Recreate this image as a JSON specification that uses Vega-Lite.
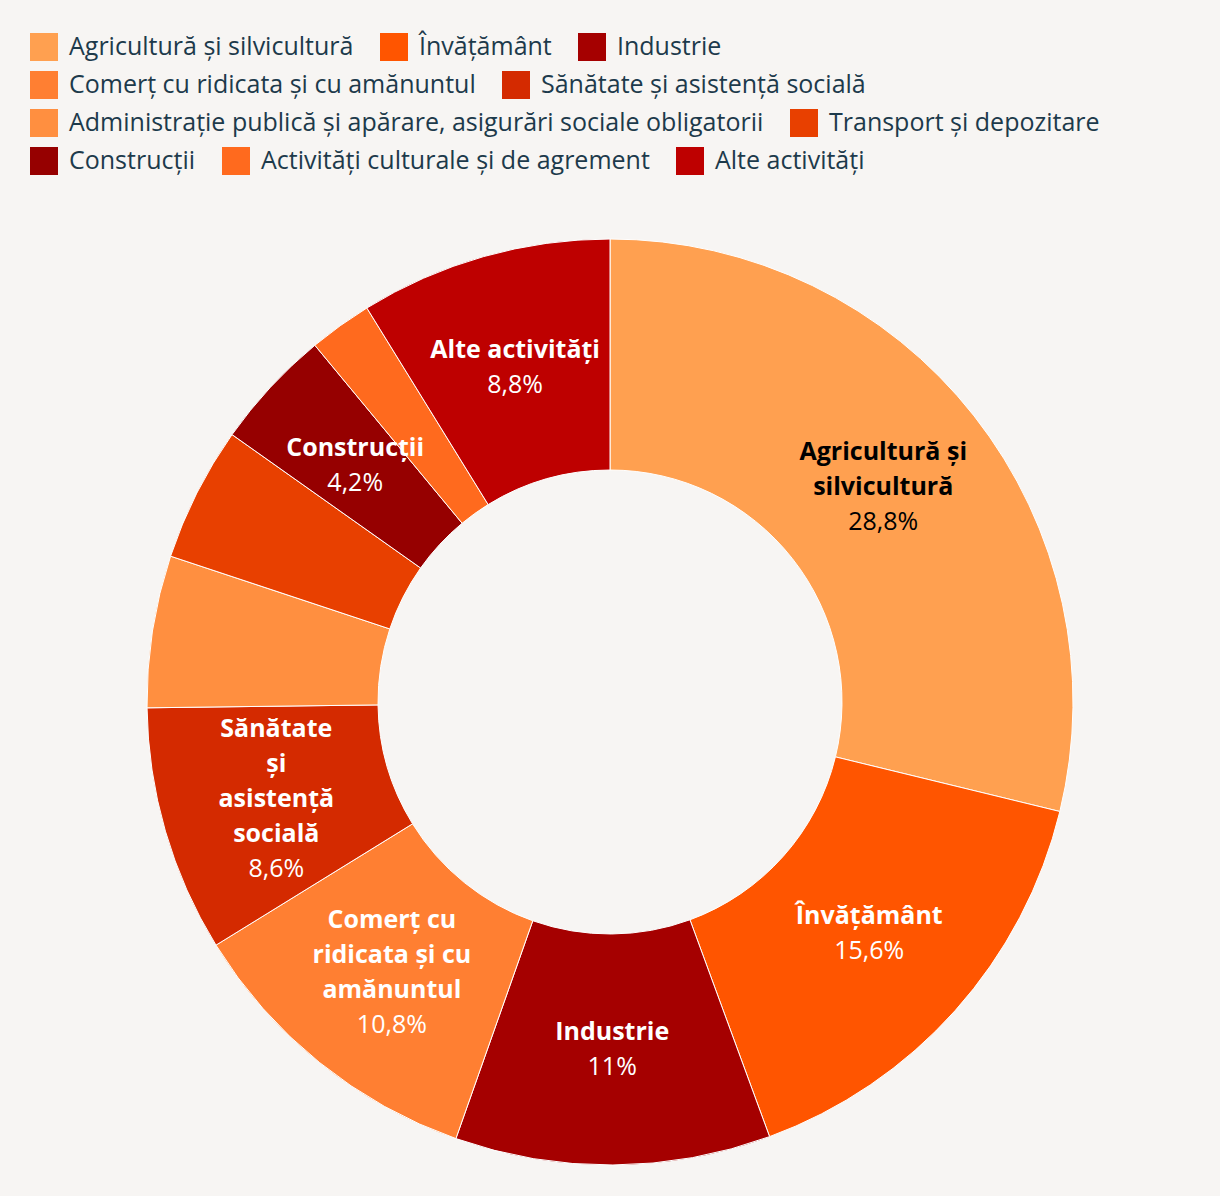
{
  "$schema": "https://vega.github.io/schema/vega-lite/v6.json",
  "autosize": {"type": "none"},
  "width": 1220,
  "height": 926,
  "padding": {"top": 239, "bottom": 31, "left": 0, "right": 0},
  "background": "#F7F5F3",
  "config": {
    "view": {"stroke": null},
    "font": "Open Sans",
    "legend": {
      "orient": "none",
      "direction": "horizontal",
      "title": null,
      "labelFont": "Open Sans",
      "labelFontSize": 25,
      "labelColor": "#1d3a4b",
      "labelOffset": 11,
      "labelLimit": 1000,
      "symbolType": "square",
      "symbolSize": 784,
      "symbolStrokeWidth": 0,
      "symbolOpacity": 1,
      "columnPadding": 26
    },
    "text": {"font": "Open Sans", "fontSize": 25, "lineHeight": 35, "lineBreak": "\n", "align": "center", "baseline": "middle", "radius": 347.5}
  },
  "data": {
    "values": [
      {"category": "Agricultură și silvicultură", "value": 28.8, "label": "Agricultură și\nsilvicultură", "pct": "28,8%"},
      {"category": "Învățământ", "value": 15.6, "label": "Învățământ", "pct": "15,6%"},
      {"category": "Industrie", "value": 11.0, "label": "Industrie", "pct": "11%"},
      {"category": "Comerț cu ridicata și cu amănuntul", "value": 10.8, "label": "Comerț cu\nridicata și cu\namănuntul", "pct": "10,8%"},
      {"category": "Sănătate și asistență socială", "value": 8.6, "label": "Sănătate\nși\nasistență\nsocială", "pct": "8,6%"},
      {"category": "Administrație publică și apărare, asigurări sociale obligatorii", "value": 5.3, "label": "", "pct": ""},
      {"category": "Transport și depozitare", "value": 4.7, "label": "", "pct": ""},
      {"category": "Construcții", "value": 4.2, "label": "Construcții", "pct": "4,2%"},
      {"category": "Activități culturale și de agrement", "value": 2.2, "label": "", "pct": ""},
      {"category": "Alte activități", "value": 8.8, "label": "Alte activități", "pct": "8,8%"}
    ]
  },
  "transform": [
    {"window": [{"op": "sum", "field": "value", "as": "end"}], "frame": [null, 0]},
    {"calculate": "datum.end - datum.value", "as": "start"},
    {"calculate": "datum.end - datum.value / 2", "as": "mid"},
    {"calculate": "datum.label === '' ? 0 : length(split(datum.label, '\\n'))", "as": "nlines"}
  ],
  "layer": [
    {
      "transform": [{"filter": {"field": "category", "oneOf": ["Agricultură și silvicultură", "Învățământ", "Industrie"]}}],
      "mark": {"type": "arc", "innerRadius": 232, "stroke": "#ffffff", "strokeWidth": 1},
      "encoding": {
        "theta": {"field": "start", "type": "quantitative", "scale": {"domain": [0, 100]}},
        "theta2": {"field": "end"},
        "color": {
          "field": "category", "type": "nominal",
          "scale": {"domain": ["Agricultură și silvicultură", "Învățământ", "Industrie"], "range": ["#FFA050", "#FF5500", "#A50000"]},
          "legend": {"legendX": 30, "legendY": -206}
        }
      }
    },
    {
      "transform": [{"filter": {"field": "category", "oneOf": ["Comerț cu ridicata și cu amănuntul", "Sănătate și asistență socială"]}}],
      "mark": {"type": "arc", "innerRadius": 232, "stroke": "#ffffff", "strokeWidth": 1},
      "encoding": {
        "theta": {"field": "start", "type": "quantitative", "scale": {"domain": [0, 100]}},
        "theta2": {"field": "end"},
        "color": {
          "field": "category", "type": "nominal",
          "scale": {"domain": ["Comerț cu ridicata și cu amănuntul", "Sănătate și asistență socială"], "range": ["#FF7F32", "#D42A00"]},
          "legend": {"legendX": 30, "legendY": -168}
        }
      }
    },
    {
      "transform": [{"filter": {"field": "category", "oneOf": ["Administrație publică și apărare, asigurări sociale obligatorii", "Transport și depozitare"]}}],
      "mark": {"type": "arc", "innerRadius": 232, "stroke": "#ffffff", "strokeWidth": 1},
      "encoding": {
        "theta": {"field": "start", "type": "quantitative", "scale": {"domain": [0, 100]}},
        "theta2": {"field": "end"},
        "color": {
          "field": "category", "type": "nominal",
          "scale": {"domain": ["Administrație publică și apărare, asigurări sociale obligatorii", "Transport și depozitare"], "range": ["#FF8F40", "#E84000"]},
          "legend": {"legendX": 30, "legendY": -130}
        }
      }
    },
    {
      "transform": [{"filter": {"field": "category", "oneOf": ["Construcții", "Activități culturale și de agrement", "Alte activități"]}}],
      "mark": {"type": "arc", "innerRadius": 232, "stroke": "#ffffff", "strokeWidth": 1},
      "encoding": {
        "theta": {"field": "start", "type": "quantitative", "scale": {"domain": [0, 100]}},
        "theta2": {"field": "end"},
        "color": {
          "field": "category", "type": "nominal",
          "scale": {"domain": ["Construcții", "Activități culturale și de agrement", "Alte activități"], "range": ["#960000", "#FF6A1E", "#BE0000"]},
          "legend": {"legendX": 30, "legendY": -92}
        }
      }
    },
    {
      "transform": [{"filter": "datum.nlines === 1"}],
      "mark": {"type": "text", "fontWeight": "bold", "dy": -17.5},
      "encoding": {
        "theta": {"field": "mid", "type": "quantitative", "scale": {"domain": [0, 100]}},
        "text": {"field": "label"},
        "color": {"condition": {"test": "datum.category === 'Agricultură și silvicultură'", "value": "#000000"}, "value": "#ffffff"}
      }
    },
    {
      "transform": [{"filter": "datum.nlines === 2"}],
      "mark": {"type": "text", "fontWeight": "bold", "dy": -35},
      "encoding": {
        "theta": {"field": "mid", "type": "quantitative", "scale": {"domain": [0, 100]}},
        "text": {"field": "label"},
        "color": {"condition": {"test": "datum.category === 'Agricultură și silvicultură'", "value": "#000000"}, "value": "#ffffff"}
      }
    },
    {
      "transform": [{"filter": "datum.nlines === 3"}],
      "mark": {"type": "text", "fontWeight": "bold", "dy": -52.5},
      "encoding": {
        "theta": {"field": "mid", "type": "quantitative", "scale": {"domain": [0, 100]}},
        "text": {"field": "label"},
        "color": {"condition": {"test": "datum.category === 'Agricultură și silvicultură'", "value": "#000000"}, "value": "#ffffff"}
      }
    },
    {
      "transform": [{"filter": "datum.nlines === 4"}],
      "mark": {"type": "text", "fontWeight": "bold", "dy": -70},
      "encoding": {
        "theta": {"field": "mid", "type": "quantitative", "scale": {"domain": [0, 100]}},
        "text": {"field": "label"},
        "color": {"condition": {"test": "datum.category === 'Agricultură și silvicultură'", "value": "#000000"}, "value": "#ffffff"}
      }
    },
    {
      "transform": [{"filter": "datum.nlines === 1"}],
      "mark": {"type": "text", "fontWeight": "normal", "dy": 17.5},
      "encoding": {
        "theta": {"field": "mid", "type": "quantitative", "scale": {"domain": [0, 100]}},
        "text": {"field": "pct"},
        "color": {"condition": {"test": "datum.category === 'Agricultură și silvicultură'", "value": "#000000"}, "value": "#ffffff"}
      }
    },
    {
      "transform": [{"filter": "datum.nlines === 2"}],
      "mark": {"type": "text", "fontWeight": "normal", "dy": 35},
      "encoding": {
        "theta": {"field": "mid", "type": "quantitative", "scale": {"domain": [0, 100]}},
        "text": {"field": "pct"},
        "color": {"condition": {"test": "datum.category === 'Agricultură și silvicultură'", "value": "#000000"}, "value": "#ffffff"}
      }
    },
    {
      "transform": [{"filter": "datum.nlines === 3"}],
      "mark": {"type": "text", "fontWeight": "normal", "dy": 52.5},
      "encoding": {
        "theta": {"field": "mid", "type": "quantitative", "scale": {"domain": [0, 100]}},
        "text": {"field": "pct"},
        "color": {"condition": {"test": "datum.category === 'Agricultură și silvicultură'", "value": "#000000"}, "value": "#ffffff"}
      }
    },
    {
      "transform": [{"filter": "datum.nlines === 4"}],
      "mark": {"type": "text", "fontWeight": "normal", "dy": 70},
      "encoding": {
        "theta": {"field": "mid", "type": "quantitative", "scale": {"domain": [0, 100]}},
        "text": {"field": "pct"},
        "color": {"condition": {"test": "datum.category === 'Agricultură și silvicultură'", "value": "#000000"}, "value": "#ffffff"}
      }
    }
  ],
  "resolve": {"scale": {"color": "independent"}}
}
